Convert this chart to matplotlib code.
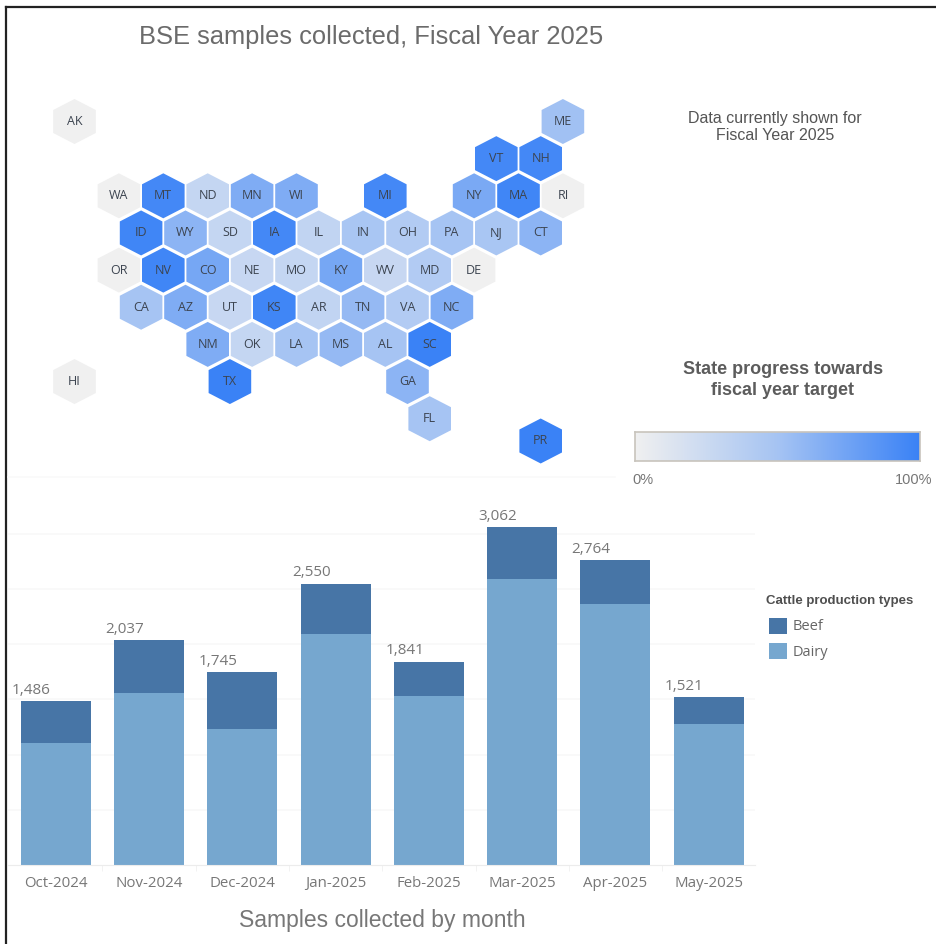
import matplotlib
matplotlib.use("Agg")
import matplotlib.pyplot as plt
from matplotlib.colors import LinearSegmentedColormap
from matplotlib.patches import Polygon, Rectangle
from matplotlib.ticker import FixedLocator
import numpy as np

plt.rcParams['font.family'] = ['Liberation Sans', 'DejaVu Sans']

states = ["AK", "ME", "VT", "NH", "WA", "MT", "ND", "MN", "WI", "MI", "NY", "MA", "RI",
          "ID", "WY", "SD", "IA", "IL", "IN", "OH", "PA", "NJ", "CT",
          "OR", "NV", "CO", "NE", "MO", "KY", "WV", "MD", "DE",
          "CA", "AZ", "UT", "KS", "AR", "TN", "VA", "NC",
          "NM", "OK", "LA", "MS", "AL", "SC", "HI", "TX", "GA", "FL", "PR"]
# hex grid position of each state (half-column, row)
state_col = [0, 22, 19, 21, 2, 4, 6, 8, 10, 14, 18, 20, 22,
             3, 5, 7, 9, 11, 13, 15, 17, 19, 21,
             2, 4, 6, 8, 10, 12, 14, 16, 18,
             3, 5, 7, 9, 11, 13, 15, 17,
             6, 8, 10, 12, 14, 16, 0, 7, 15, 16, 21]
state_row = [0, 0, 1, 1, 2, 2, 2, 2, 2, 2, 2, 2, 2,
             3, 3, 3, 3, 3, 3, 3, 3, 3, 3,
             4, 4, 4, 4, 4, 4, 4, 4, 4,
             5, 5, 5, 5, 5, 5, 5, 5,
             6, 6, 6, 6, 6, 6, 7, 7, 7, 8, 8.6]
state_progress = [0.0, .52, .95, .95, 0.0, .95, .30, .68, .68, .95, .70, .97, 0.0,
                  .97, .62, .30, .95, .32, .48, .42, .50, .48, .62,
                  0.0, .97, .72, .28, .30, .72, .28, .42, 0.0,
                  .50, .68, .28, .97, .32, .58, .42, .68,
                  .68, .30, .50, .58, .50, 1.0, 0.0, 1.0, .62, .50, 1.0]

months = ["Oct-2024", "Nov-2024", "Dec-2024", "Jan-2025", "Feb-2025", "Mar-2025", "Apr-2025", "May-2025"]
totals = [1486, 2037, 1745, 2550, 1841, 3062, 2764, 1521]
dairy = [1105, 1558, 1232, 2092, 1531, 2591, 2364, 1277]
beef = [t - d for t, d in zip(totals, dairy)]

BEEF_COL = "#4775a6"
DAIRY_COL = "#76a7cf"
LABEL_FONT = ["Open Sans", "DejaVu Sans"]
cmap = LinearSegmentedColormap.from_list("progress", ["#f0f0f0", "#a6c4f3", "#3a82f6"])

W, H = 937, 944
fig = plt.figure(figsize=(W / 100, H / 100), dpi=100)

# pixel canvas for the hex map, texts and frame
bg = fig.add_axes([0, 0, 1, 1])
bg.set_xlim(0, W)
bg.set_ylim(H, 0)
bg.axis("off")

hex_x = np.array([0, 21.3, 21.3, 0, -21.3, -21.3])
hex_y = np.array([-22.5, -11.5, 11.5, 22.5, 11.5, -11.5])
for s, c, r, p in zip(states, state_col, state_row, state_progress):
    x = 74.5 + 22.2 * c
    y = 121.5 + 37.15 * r
    bg.add_patch(Polygon(np.column_stack([x + hex_x, y + hex_y]), closed=True,
                         facecolor=cmap(float(p)), edgecolor="none"))
    bg.text(x, y, s, ha="center", va="center", fontsize=9, color="#3c4450", family=LABEL_FONT)

# frame and faint separator
bg.plot([6, 6], [944, 7], color="#222222", lw=1.6)
bg.plot([6, 937], [7, 7], color="#222222", lw=1.6)
bg.plot([8, 615], [477, 477], color="#fafafa", lw=1.2)

bg.text(371, 37, "BSE samples collected, Fiscal Year 2025", ha="center", va="center",
        fontsize=18.4, color="#6b6b6b")
bg.text(775, 127, "Data currently shown for\nFiscal Year 2025", ha="center", va="center",
        fontsize=11.5, color="#555555", linespacing=1.2)
bg.text(783, 380, "State progress towards\nfiscal year target", ha="center", va="center",
        fontsize=13, color="#5c5c5c", fontweight="bold", linespacing=1.35)
bg.text(643, 480, "0%", ha="center", va="center", fontsize=10.5, color="#777777")
bg.text(914, 480, "100%", ha="center", va="center", fontsize=10.5, color="#777777")

# colour legend
cax = fig.add_axes([635 / W, 1 - 461 / H, 285 / W, 29 / H])
cax.imshow(np.linspace(0, 1, 256).reshape(1, -1), cmap=cmap, aspect="auto")
cax.set_xticks([])
cax.set_yticks([])
for sp in cax.spines.values():
    sp.set_color("#c8c4bc")
    sp.set_linewidth(1.2)

# stacked bars
ax = fig.add_axes([8 / W, 1 - 865 / H, 747 / W, 391 / H])
ax.patch.set_alpha(0)
xs = np.arange(len(months))
ax.bar(xs, dairy, width=0.75, color=DAIRY_COL)
ax.bar(xs, beef, width=0.75, bottom=dairy, color=BEEF_COL)
for x, t in zip(xs, totals):
    ax.text(x - 0.26, t + 30, f"{t:,}", ha="center", va="bottom", fontsize=11,
            color="#777777", family=LABEL_FONT)
ax.set_xlim(-0.51, 7.495)
ax.set_ylim(0, 3542)
ax.set_yticks(np.arange(500, 3500, 500))
ax.set_yticklabels([])
ax.tick_params(axis="y", length=0)
ax.set_xticks(xs)
ax.set_xticklabels(months, fontsize=10.8, color="#777777", family=LABEL_FONT, va="baseline")
ax.tick_params(axis="x", which="major", length=0, pad=16)
ax.xaxis.set_minor_locator(FixedLocator(xs[:-1] + 0.5))
ax.tick_params(axis="x", which="minor", length=4, color="#f0f0f0")
ax.grid(axis="y", color="#f8f8f8", lw=1.2)
ax.set_axisbelow(True)
for name in ["top", "right", "left"]:
    ax.spines[name].set_visible(False)
ax.spines["bottom"].set_color("#ececec")

bg.text(382, 920, "Samples collected by month", ha="center", va="center",
        fontsize=16.5, color="#777777")

# type legend
bg.text(766, 601, "Cattle production types", ha="left", va="center", fontsize=9.5,
        fontweight="bold", color="#4f4f4f")
bg.add_patch(Rectangle((769, 618), 18, 16, facecolor=BEEF_COL, edgecolor="none"))
bg.add_patch(Rectangle((769, 643), 18, 16, facecolor=DAIRY_COL, edgecolor="none"))
bg.text(793, 627, "Beef", ha="left", va="center", fontsize=10.5, color="#666666", family=LABEL_FONT)
bg.text(793, 652, "Dairy", ha="left", va="center", fontsize=10.5, color="#666666", family=LABEL_FONT)

fig.savefig("out.png", dpi=100)
